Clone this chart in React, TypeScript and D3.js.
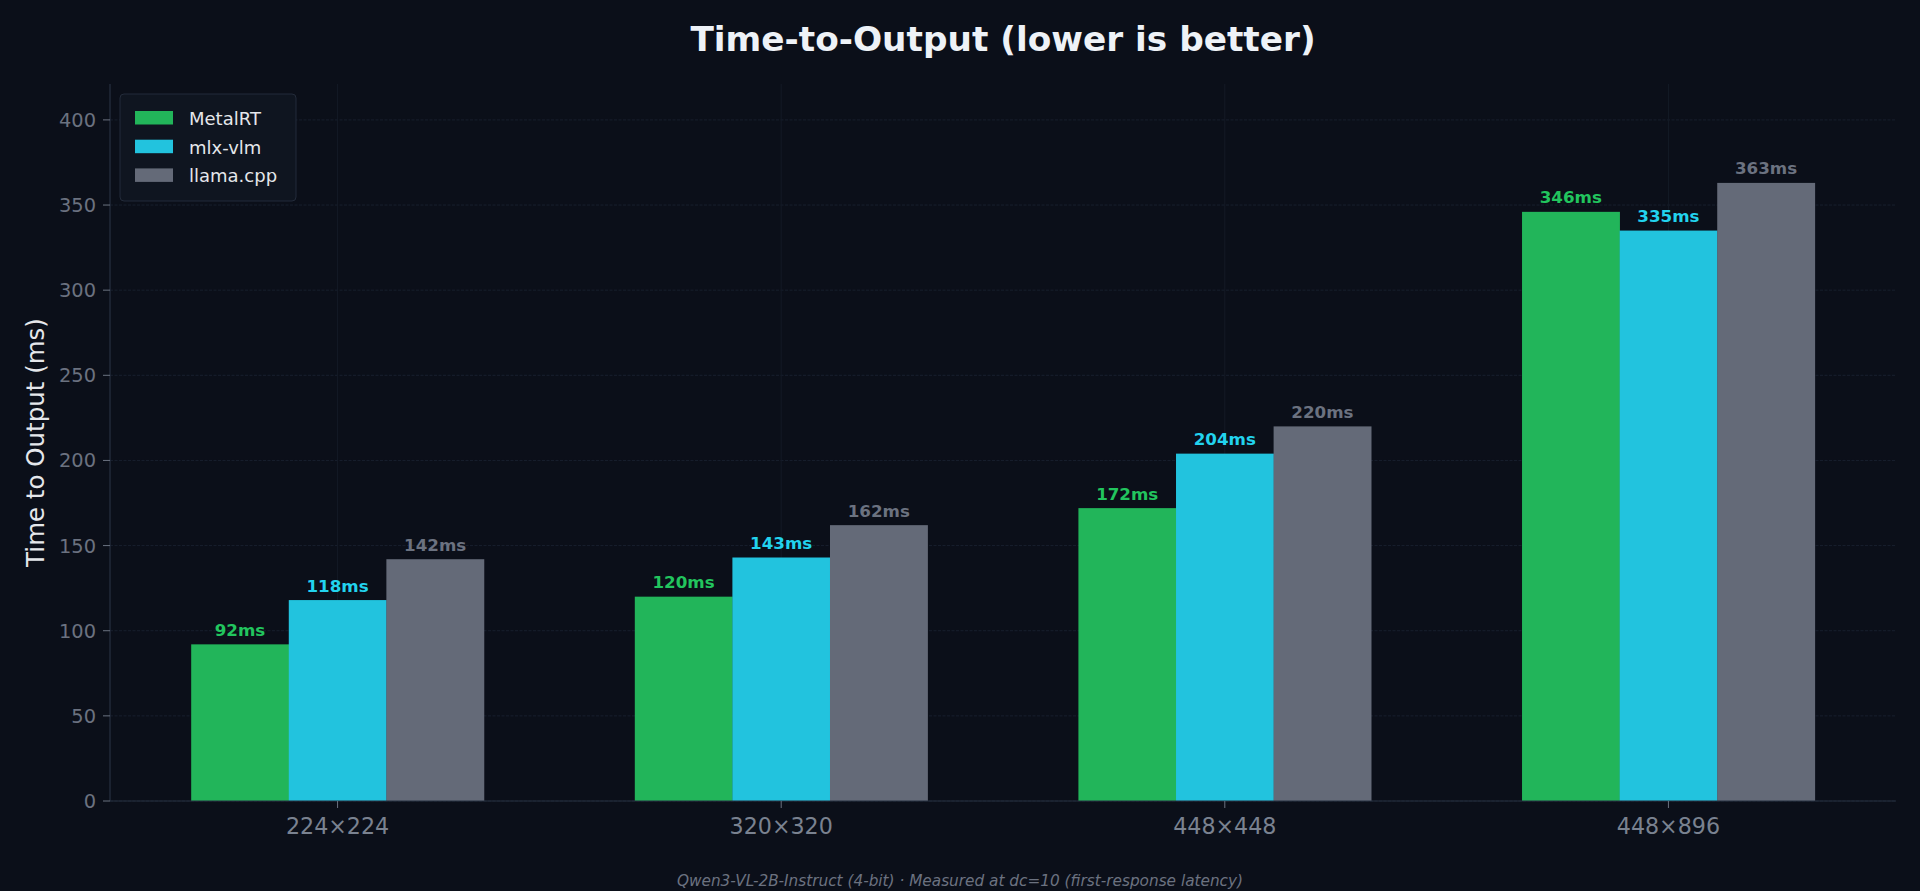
import React, { useEffect } from 'react';
import * as d3 from 'd3';

const resolutions = ['224×224', '320×320', '448×448', '448×896'];
const seriesNames = ['MetalRT', 'mlx-vlm', 'llama.cpp'];
const metalrt = [92, 120, 172, 346];
const mlxvlm = [118, 143, 204, 335];
const llamacpp = [142, 162, 220, 363];
const yTicks = [0, 50, 100, 150, 200, 250, 300, 350, 400];

const barColors = ['#22b55a', '#22c3de', '#646a78'];
const textColors = ['#22c55e', '#22d3ee', '#6b7280'];

const W = 1920;
const H = 891;
const margin = { left: 110, right: 24, top: 84, bottom: 90 };
const font = '"DejaVu Sans", sans-serif';

export default function App() {
    useEffect(() => {
        document.body.style.margin = '0';
        document.body.style.background = '#0b0f19';
    }, []);

    const series = [metalrt, mlxvlm, llamacpp];
    const barW = 0.22;

    // matplotlib-like numeric x axis with 5% margins
    const x = d3.scaleLinear()
        .domain([-0.513, 3.513])
        .range([margin.left, W - margin.right]);
    const yMax = d3.max(llamacpp.concat(metalrt, mlxvlm))! * 1.16;
    const y = d3.scaleLinear()
        .domain([0, yMax])
        .range([H - margin.bottom, margin.top]);

    const x0 = margin.left;
    const x1 = W - margin.right;
    const y0 = H - margin.bottom;
    const yTop = margin.top;

    return (
        <svg width={W} height={H} style={{ display: 'block', background: '#0b0f19' }} fontFamily={font}>
            <rect x={0} y={0} width={W} height={H} fill="#0b0f19" />

            {/* grid */}
            {yTicks.map(t => (
                <line key={'gy' + t} x1={x0} x2={x1} y1={y(t)} y2={y(t)}
                    stroke="#181f2d" strokeWidth={1} strokeDasharray="3 1.5" />
            ))}
            {resolutions.map((r, i) => (
                <line key={'gx' + r} x1={x(i)} x2={x(i)} y1={yTop} y2={y0}
                    stroke="#141a26" strokeWidth={1} />
            ))}

            {/* bars */}
            {series.map((vals, s) => vals.map((v, i) => {
                const cx = i + (s - 1) * barW;
                return (
                    <rect key={`b${s}-${i}`}
                        x={x(cx - barW / 2)} width={x(cx + barW / 2) - x(cx - barW / 2) + 0.3}
                        y={y(v)} height={y(0) - y(v)} fill={barColors[s]} />
                );
            }))}

            {/* value labels */}
            {series.map((vals, s) => vals.map((v, i) => {
                const cx = i + (s - 1) * barW;
                return (
                    <text key={`t${s}-${i}`} x={x(cx)} y={y(v) - 8.5} textAnchor="middle"
                        fontSize={16.7} fontWeight="bold" fill={textColors[s]}>
                        {v}ms
                    </text>
                );
            }))}

            {/* spines */}
            <line x1={x0} x2={x0} y1={yTop} y2={y0} stroke="#273040" strokeWidth={1.2} />
            <line x1={x0} x2={x1} y1={y0} y2={y0} stroke="#273040" strokeWidth={1.2} />

            {/* y ticks */}
            {yTicks.map(t => (
                <g key={'yt' + t}>
                    <line x1={x0 - 7} x2={x0} y1={y(t)} y2={y(t)} stroke="#6b7280" strokeWidth={1} />
                    <text x={x0 - 14} y={y(t)} dy="0.36em" textAnchor="end" fontSize={19.4} fill="#6b7280">
                        {t}
                    </text>
                </g>
            ))}

            {/* x ticks */}
            {resolutions.map((r, i) => (
                <g key={'xt' + r}>
                    <line x1={x(i)} x2={x(i)} y1={y0} y2={y0 + 7} stroke="#6b7280" strokeWidth={1} />
                    <text x={x(i)} y={y0 + 33} textAnchor="middle" fontSize={22.2} fill="#7a8290">
                        {r}
                    </text>
                </g>
            ))}

            {/* axis label */}
            <text transform={`translate(44, ${(yTop + y0) / 2}) rotate(-90)`} textAnchor="middle"
                fontSize={24.5} fill="#e5e7eb">
                Time to Output (ms)
            </text>

            {/* title */}
            <text x={(x0 + x1) / 2} y={51} textAnchor="middle" fontSize={34.3} fontWeight="bold" fill="#eef2f7">
                Time-to-Output (lower is better)
            </text>

            {/* legend */}
            <g>
                <rect x={120} y={94} width={176} height={107} rx={4} fill="#0f1520" stroke="#232b3a" strokeWidth={1} />
                {seriesNames.map((n, s) => (
                    <g key={'lg' + n}>
                        <rect x={135} y={111 + s * 28.7} width={38} height={13.5} fill={barColors[s]} />
                        <text x={189} y={125 + s * 28.7} fontSize={18} fill="#e5e7eb">{n}</text>
                    </g>
                ))}
            </g>

            {/* footer */}
            <text x={W / 2} y={886} textAnchor="middle" fontSize={15.3} fontStyle="italic" fill="#6b7280">
                Qwen3-VL-2B-Instruct (4-bit) · Measured at dc=10 (first-response latency)
            </text>
        </svg>
    );
}
